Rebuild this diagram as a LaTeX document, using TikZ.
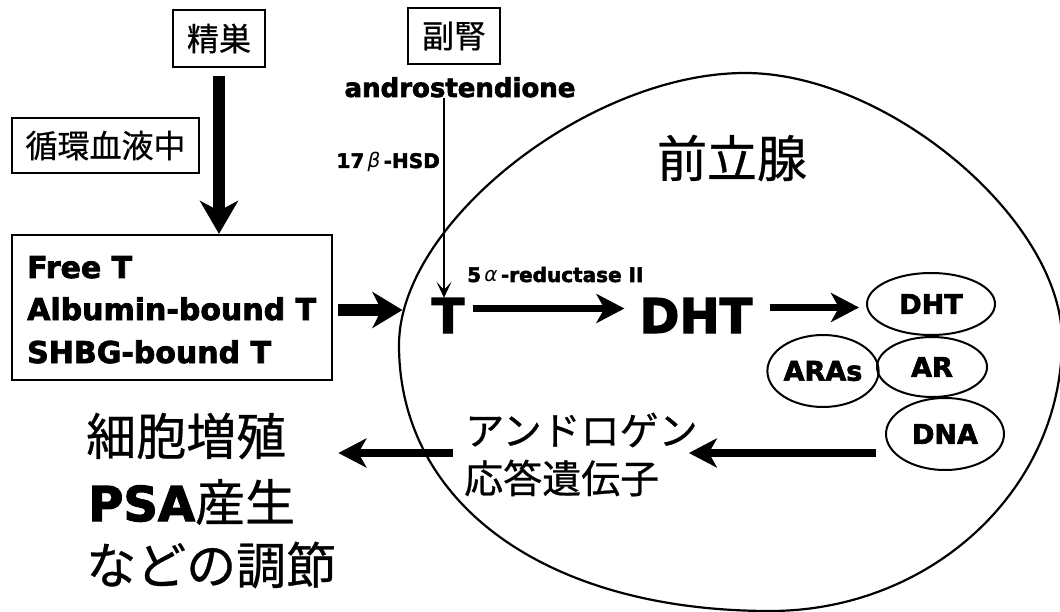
\documentclass[tikz,border=0pt]{standalone}
\usepackage{fontspec}
\setmainfont{DejaVu Sans}[BoldFeatures={FakeBold=2.5}]
\newfontfamily\jp{Noto Sans CJK JP}[FakeBold=0.6]
\usetikzlibrary{arrows.meta,calc,shapes.geometric}
\newcommand{\gk}[1]{{\mdseries\itshape #1}}
\begin{document}
\begin{tikzpicture}[x=1pt,y=-1pt,
  jbox/.style={draw,line width=2.2pt,inner sep=0pt,font=\jp\fontsize{32}{36}\selectfont},
  jtext/.style={inner sep=0pt,font=\jp\fontsize{50}{56}\selectfont},
  jmid/.style={inner sep=0pt,font=\jp\fontsize{39}{44}\selectfont},
  ltext/.style={inner sep=0pt,font=\bfseries\fontsize{30}{34}\selectfont},
  small/.style={inner sep=0pt,font=\bfseries\fontsize{20}{22}\selectfont},
  big/.style={inner sep=0pt,font=\bfseries\fontsize{48}{52}\selectfont},
  oval/.style={draw,ellipse,line width=2pt,inner sep=0pt,font=\bfseries\fontsize{27}{30}\selectfont},
  fatarrow/.style={line width=#1,-{Stealth[length=30pt,width=36pt,inset=9pt]}},
  midarrow/.style={line width=7.5pt,-{Stealth[length=28pt,width=29pt,inset=8pt]}},
  thinarrow/.style={line width=1.5pt,-{Stealth[length=16pt,width=15pt,inset=8pt]}}]
\useasboundingbox[fill=white] (0,0) rectangle (1060,612);

% prostate outline
\draw[line width=2.2pt] (399,345) .. controls (399,222.6) and (589.3,73) .. (745,73)
  .. controls (887.6,73) and (1062,219.9) .. (1062,340)
  .. controls (1062,489.6) and (931.2,611) .. (770,611)
  .. controls (547.4,611) and (399,504.6) .. (399,345) -- cycle;

% boxes
\node[jbox,minimum width=92pt,minimum height=57pt] (testis) at (219,38.5) {精巣};
\node[jbox,minimum width=92pt,minimum height=56pt] (adrenal) at (454,36) {副腎};
\node[jbox,minimum width=187pt,minimum height=55pt] (circ) at (105.5,145.5) {循環血液中};
\node[draw,line width=2.2pt,minimum width=320pt,minimum height=145pt,inner sep=0pt] (bigbox) at (172,307.5) {};
\node[ltext,anchor=base west] (ft) at (27,278) {Free T};
\node[ltext,anchor=base west] (abt) at (27,320) {Albumin-bound T};
\node[ltext,anchor=base west] (sbt) at (27,363) {SHBG-bound T};

% texts
\node[inner sep=0pt,font=\bfseries\fontsize{26}{28}\selectfont,anchor=base] (andro) at (460,97) {androstendione};
\node[small,anchor=base east] (hsd) at (440,168) {17\,\gk{β}\,-HSD};
\node[small,anchor=base west] (red) at (467,282) {5\,\gk{α}\,-reductase II};
\node[jtext] (pros) at (732,158) {前立腺};
\node[big,anchor=base] (T) at (448,333) {T};
\node[big,anchor=base] (DHT) at (696,333) {DHT};

% complex
\node[oval,minimum width=128pt,minimum height=62pt] (odht) at (931,304) {DHT};
\node[oval,minimum width=110pt,minimum height=60pt] (oar) at (932,367) {AR};
\node[oval,minimum width=108pt,minimum height=72pt] (oaras) at (823,371) {ARAs};
\node[oval,minimum width=118pt,minimum height=72pt] (odna) at (945,434) {DNA};

\node[jmid,anchor=west] (andr) at (465,430) {アンドロゲン};
\node[jmid,anchor=west] (gene) at (464,478) {応答遺伝子};

\node[jtext,anchor=west] (r1) at (86,436) {細胞増殖};
\node[jtext,anchor=west] (r2) at (88,502) {{\rmfamily\bfseries\fontsize{48}{52}\selectfont PSA}産生};
\node[jtext,anchor=west] (r3) at (86,565) {などの調節};

% arrow end points
\coordinate (s1) at ($(bigbox.east)+(5,2.5)$);
\coordinate (e1) at ($(T.west)+(-29,0)$);
\coordinate (s3) at ($(DHT.east)+(17,-8)$);
\coordinate (e3) at ($(odht.west)+(-7,0)$);

% arrows
\draw[line width=12pt,-{Stealth[length=33pt,width=38pt,inset=10pt]}]
  ($(testis.south)+(0,8)$) -- (testis.south |- bigbox.north);
\draw[fatarrow=11pt] (s1) -- (s1 -| e1);
\draw[thinarrow] (andro.south -| hsd.east) ++(4,0) coordinate (hs) -- (hs |- T.north) ;
\draw[midarrow] ($(T.east)+(8,-7)$) -- ($(DHT.west)+(-15,-7)$);
\draw[midarrow] (s3) -- (s3 -| e3);
\draw[midarrow] ($(odna.west)+(-9,19)$) -- ($(andr.east)+(-9,23)$);
\draw[midarrow] ($(gene.west)+(-11,-25)$) -- ($(r1.east)+(52,17)$);
\end{tikzpicture}
\end{document}
